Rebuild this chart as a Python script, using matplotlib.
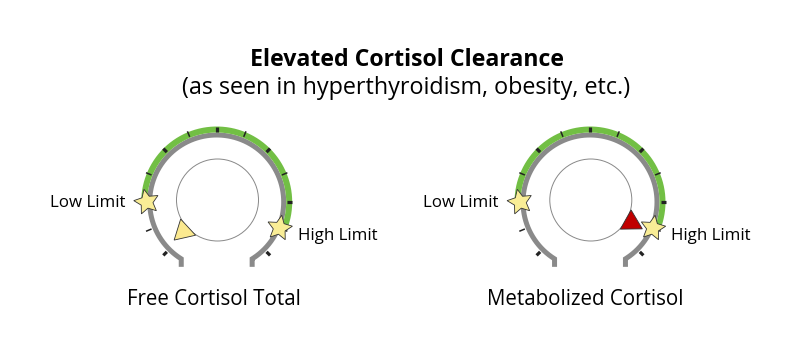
import numpy as np
import matplotlib.pyplot as plt
from matplotlib.patches import Polygon, Circle

plt.rcParams['font.family'] = ['Open Sans', 'DejaVu Sans']

# ----------------------------
# DATA
# ----------------------------
title = "Elevated Cortisol Clearance"
subtitle = "(as seen in hyperthyroidism, obesity, etc.)"
gauge_names = ["Free Cortisol Total", "Metabolized Cortisol"]
gauge_values = [0.1, 11.3]      # position on a 0..12 scale
low_limits = [2, 2]
high_limits = [11, 11]
pointer_colors = ["#fbe98f", "#c00000"]
scale_max = 12

# ----------------------------
# STYLE / GEOMETRY (pixels)
# ----------------------------
W, H = 785, 358
centers_x = [216.7, 590.0]
center_y = 156.0
r_gray = 67
r_green = 72.5
r_inner = 41
START, STEP = 225.0, 22.5   # angle of value 0 and degrees per unit
PT = 0.72                   # points per pixel at dpi 100

GRAY = "#8a8a8a"
GREEN = "#72bf44"
STAR = "#f9ed96"


def ang(v):
    return np.deg2rad(START - STEP * v)


def pol(cx, cy, r, a):
    return cx + r * np.cos(a), cy + r * np.sin(a)


def star(ax, x, y, rot):
    a = np.deg2rad(90 + rot) + np.arange(10) * np.pi / 5
    rr = np.where(np.arange(10) % 2 == 0, 13, 6.3)
    pts = np.column_stack([x + rr * np.cos(a), y + rr * np.sin(a)])
    ax.add_patch(Polygon(pts, closed=True, fc=STAR, ec="#333333", lw=0.6, zorder=6))


fig = plt.figure(figsize=(W / 100, H / 100), dpi=100)
ax = fig.add_axes([0, 0, 1, 1])
ax.set_xlim(0, W)
ax.set_ylim(0, H)
ax.axis("off")

ax.text(407, 292, title, ha="center", va="baseline", fontsize=16.7, fontweight="bold")
ax.text(406, 264.5, subtitle, ha="center", va="baseline", fontsize=16.8)

for i, name in enumerate(gauge_names):
    cx = centers_x[i]
    cy = center_y

    # gray scale arc with small hooks at both ends
    a = np.linspace(ang(-0.58), ang(scale_max + 0.58), 200)
    xs, ys = pol(cx, cy, r_gray, a)
    xs = np.concatenate([[xs[0]], xs, [xs[-1]]])
    ys = np.concatenate([[ys[0] - 8], ys, [ys[-1] - 8]])
    ax.plot(xs, ys, color=GRAY, lw=5 * PT, solid_joinstyle="miter",
            solid_capstyle="butt", zorder=2)

    # green normal range band
    a = np.linspace(ang(low_limits[i]), ang(high_limits[i]), 200)
    xs, ys = pol(cx, cy, r_green, a)
    ax.plot(xs, ys, color=GREEN, lw=6 * PT, solid_capstyle="butt", zorder=2)

    # ticks
    for v in range(scale_max + 1):
        t = ang(v)
        x0, y0 = pol(cx, cy, 70.5, t)
        x1, y1 = pol(cx, cy, 76.5 if v % 2 else 75.5, t)
        ax.plot([x0, x1], [y0, y1], color="#222222",
                lw=(1.1 if v % 2 else 2.3), solid_capstyle="butt", zorder=3)

    # inner circle
    ax.add_patch(Circle((cx + 0.8, cy + 2), r_inner, fc="white", ec="#888888",
                        lw=0.7, zorder=4))

    # pointer triangle
    t = ang(gauge_values[i])
    side = 22
    hgt = side * np.sqrt(3) / 2
    bx, by = pol(cx + 0.8, cy + 2, r_inner - 1, t)
    tip = pol(cx + 0.8, cy + 2, r_inner - 1 + hgt, t)
    px, py = -np.sin(t), np.cos(t)
    tri = [(bx + px * side / 2, by + py * side / 2), tip,
           (bx - px * side / 2, by - py * side / 2)]
    ax.add_patch(Polygon(tri, closed=True, fc=pointer_colors[i], ec="#333333",
                         lw=0.6, zorder=5))

    # limit stars + labels
    sx, sy = pol(cx, cy, 70, ang(low_limits[i]))
    star(ax, sx, sy, 12)
    hx, hy = pol(cx, cy, 68, ang(high_limits[i]))
    star(ax, hx, hy, -10)
    ax.text(cx - 91.5, 151.3, "Low Limit", ha="right", va="baseline", fontsize=12.2)
    ax.text(cx + 81, 118, "High Limit", ha="left", va="baseline", fontsize=12.2)

    ax.text(cx - 3 - 1.5 * i, 53, name, ha="center", va="baseline", fontsize=14.8)

fig.savefig("out.png", dpi=100)
